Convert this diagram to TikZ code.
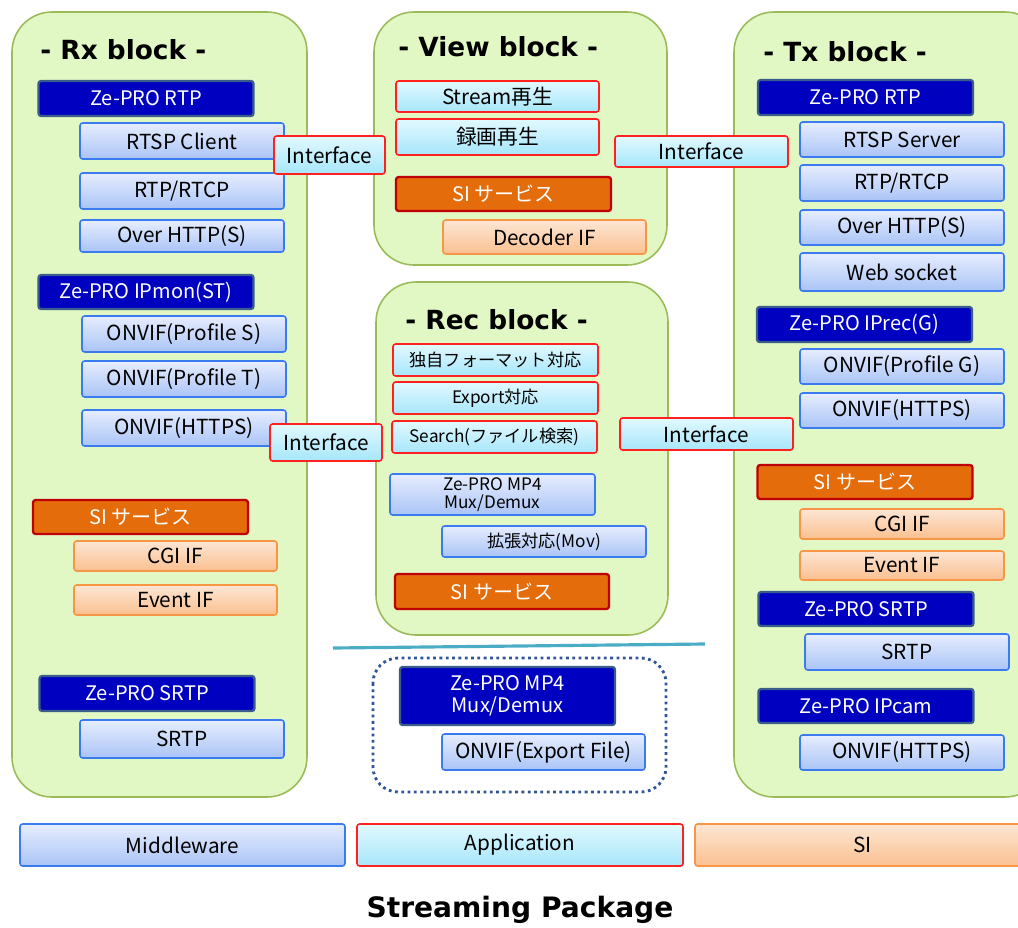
\documentclass[tikz,border=0pt]{standalone}
\usepackage{fontspec}
\setmainfont{Noto Sans CJK JP}
\newfontfamily\ttlfont{DejaVu Sans}
\usepackage{tikz}
\usetikzlibrary{positioning}
\definecolor{blkfill}{RGB}{226,248,196}
\definecolor{blkline}{RGB}{155,187,89}
\definecolor{zpfill}{RGB}{0,0,192}
\definecolor{zpline}{RGB}{56,93,138}
\definecolor{svfill}{RGB}{228,108,10}
\definecolor{svline}{RGB}{192,0,0}
\definecolor{mwtop}{RGB}{230,237,254}
\definecolor{mwbot}{RGB}{170,196,246}
\definecolor{mwline}{RGB}{58,123,240}
\definecolor{aptop}{RGB}{226,249,255}
\definecolor{apbot}{RGB}{166,230,250}
\definecolor{apline}{RGB}{255,32,32}
\definecolor{sitop}{RGB}{253,230,212}
\definecolor{sibot}{RGB}{250,192,144}
\definecolor{siline}{RGB}{247,150,70}
\definecolor{sepline}{RGB}{75,172,198}
\definecolor{dotline}{RGB}{47,85,151}
\newlength{\px}
\setlength{\px}{0.02cm}

\begin{document}
\begin{tikzpicture}[x=0.02cm,y=-0.02cm]
  \tikzstyle{blk}=[draw=blkline,line width=0.9pt,fill=blkfill,rounded corners=0.8cm]
  \tikzstyle{ttl}=[anchor=west,inner sep=0,font=\ttlfont\bfseries\fontsize{15}{15}\selectfont]
  \tikzstyle{mid}=[rectangle,draw=mwline,line width=0.9pt,top color=mwtop,bottom color=mwbot,rounded corners=1.5pt,minimum width=204\px,minimum height=35\px,inner sep=0,align=center,font=\fontsize{11.8}{12.5}\selectfont]
  \tikzstyle{app}=[mid,draw=apline,top color=aptop,bottom color=apbot]
  \tikzstyle{sil}=[mid,draw=siline,top color=sitop,bottom color=sibot]
  \tikzstyle{zp}=[rectangle,draw=zpline,line width=1.3pt,fill=zpfill,text=white,rounded corners=1.5pt,minimum width=215\px,minimum height=35\px,inner sep=0,align=center,font=\fontsize{11.4}{12.5}\selectfont]
  \tikzstyle{sisv}=[zp,draw=svline,fill=svfill]
  \tikzstyle{sm}=[font=\fontsize{9.8}{10.5}\selectfont]

  \useasboundingbox (0,0) rectangle (1018,927);

  % blocks
  \draw[blk] (12,12) rectangle (307,797);
  \draw[blk] (374,12) rectangle (667,265);
  \draw[blk] (376,282) rectangle (668,635);
  \draw[blk] (734,12) rectangle (1045,797);

  \node[ttl] (rxttl) at (40,50) {- Rx block -};
  \node[ttl] (viewttl) at (398,47) {- View block -};
  \node[ttl] (recttl) at (405,320) {- Rec block -};
  \node[ttl] (txttl) at (763,52) {- Tx block -};

  % Rx block
  \node[zp] (rxrtp) at (146,98.5) {Ze-PRO RTP};
  \node[mid,minimum height=36\px] (rxrtsp) at (182,141) {RTSP Client};
  \node[mid,minimum height=36\px] (rxrtcp) at (182,191) {RTP/RTCP};
  \node[mid,minimum height=32\px] (rxhttp) at (182,236) {Over HTTP(S)};
  \node[zp,minimum height=34\px] (rxipmon) at (146,292) {Ze-PRO IPmon(ST)};
  \node[mid,minimum height=36\px] (rxprofs) at (184,334) {ONVIF(Profile S)};
  \node[mid,minimum height=36\px] (rxproft) at (184,379) {ONVIF(Profile T)};
  \node[mid,minimum height=36\px] (rxhttps) at (184,428) {ONVIF(HTTPS)};
  \node[sisv,minimum height=34\px] (rxsi) at (140.5,517) {SI サービス};
  \node[sil,minimum width=203\px,minimum height=30\px] (rxcgi) at (175.5,556) {CGI IF};
  \node[sil,minimum width=203\px,minimum height=30\px] (rxevent) at (175.5,600) {Event IF};
  \node[zp] (rxsrtpz) at (147,693.5) {Ze-PRO SRTP};
  \node[mid,minimum height=38\px] (rxsrtp) at (182,739) {SRTP};

  % View block
  \node[app,minimum width=203\px,minimum height=31\px] (vstream) at (497.5,96.5) {Stream再生};
  \node[app,minimum width=203\px,minimum height=36\px] (vrec) at (497.5,137) {録画再生};
  \node[sisv,minimum height=34\px] (vsi) at (503.5,194) {SI サービス};
  \node[sil,minimum width=203\px,minimum height=34\px] (vdec) at (544.5,237) {Decoder IF};

  % Rec block
  \node[app,sm,minimum width=205\px,minimum height=32\px] (rfmt) at (495.5,360) {独自フォーマット対応};
  \node[app,sm,minimum width=205\px,minimum height=32\px] (rexp) at (495.5,398) {Export対応};
  \node[app,sm,minimum width=205\px,minimum height=32\px] (rsearch) at (494.5,437) {Search(ファイル検索)};
  \node[mid,sm,minimum width=205\px,minimum height=41\px] (rmp4) at (492.5,494.5) {Ze-PRO MP4\\Mux/Demux};
  \node[mid,sm,minimum height=31\px] (rmov) at (544,541.5) {拡張対応(Mov)};
  \node[sisv,minimum width=214\px] (rsi) at (502,591.5) {SI サービス};

  % interfaces
  \node[app,minimum width=111\px,minimum height=38\px] (ifrv) at (329.5,155) {Interface};
  \node[app,minimum width=112\px,minimum height=37\px] (ifrr) at (326,442.5) {Interface};
  \node[app,minimum width=173\px,minimum height=31\px] (ifvt) at (701.5,151.5) {Interface};
  \node[app,minimum width=173\px,minimum height=32\px] (ifrt) at (706.5,434) {Interface};

  % export part
  \draw[sepline,line width=1.8pt] (333,648) -- (705,644);
  \draw[dotline,line width=1.6pt,dotted,rounded corners=0.5cm] (373,658) rectangle (666,792);
  \node[zp,minimum height=58\px] (xmp4) at (507.5,696) {Ze-PRO MP4\\Mux/Demux};
  \node[mid,minimum width=203\px,minimum height=36\px] (xonvif) at (543.5,752) {ONVIF(Export File)};

  % Tx block
  \node[zp] (txrtp) at (865.5,97.5) {Ze-PRO RTP};
  \node[mid] (txrtsp) at (902,139.5) {RTSP Server};
  \node[mid,minimum height=36\px] (txrtcp) at (902,183) {RTP/RTCP};
  \node[mid] (txhttp) at (902,227.5) {Over HTTP(S)};
  \node[mid,minimum height=38\px] (txws) at (902,272) {Web socket};
  \node[zp] (txiprec) at (864.5,324.5) {Ze-PRO IPrec(G)};
  \node[mid] (txprofg) at (902,366.5) {ONVIF(Profile G)};
  \node[mid] (txhttps) at (902,410.5) {ONVIF(HTTPS)};
  \node[sisv,minimum height=34\px] (txsi) at (865,482) {SI サービス};
  \node[sil,minimum height=30\px] (txcgi) at (902,524) {CGI IF};
  \node[sil,minimum height=29\px] (txevent) at (902,565.5) {Event IF};
  \node[zp,minimum height=34\px] (txsrtpz) at (866,609) {Ze-PRO SRTP};
  \node[mid,minimum height=36\px] (txsrtp) at (907,652) {SRTP};
  \node[zp,minimum height=34\px] (txipcam) at (866,706) {Ze-PRO IPcam};
  \node[mid] (txhttps2) at (902,752.5) {ONVIF(HTTPS)};

  % legend
  \node[mid,minimum width=325\px,minimum height=42\px] (lgmw) at (182.5,845) {Middleware};
  \node[app,minimum width=326\px,minimum height=42\px] (lgapp) at (520,845) {Application};
  \node[sil,minimum width=335\px,minimum height=42\px] (lgsi) at (862.5,845) {SI};

  \node[font=\ttlfont\bfseries\fontsize{16}{16}\selectfont] (pkg) at (520,910) {Streaming Package};
\end{tikzpicture}
\end{document}
